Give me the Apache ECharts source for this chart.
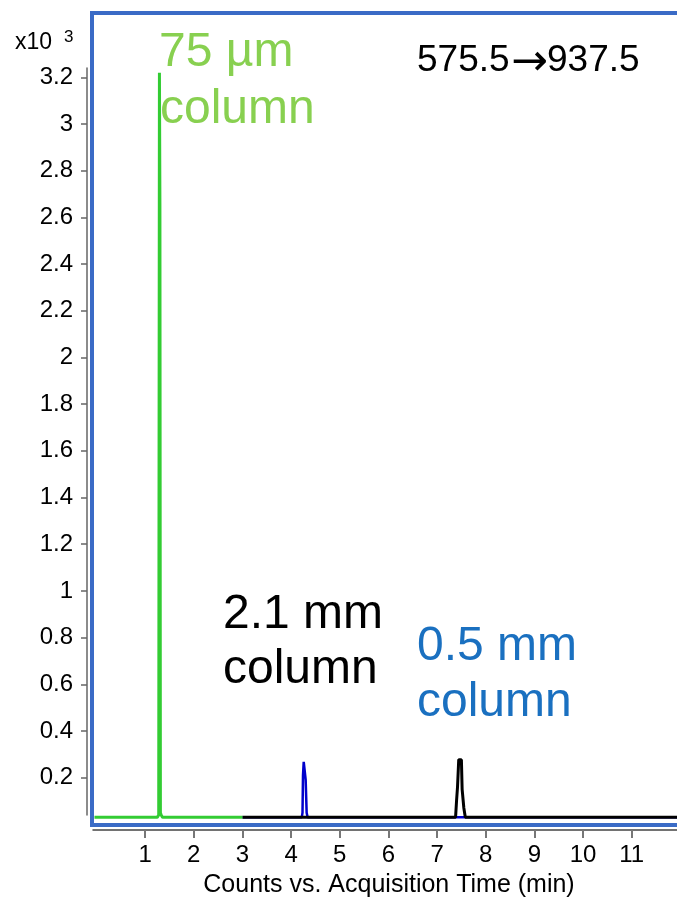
<!DOCTYPE html>
<html>
<head>
<meta charset="utf-8">
<script src="https://cdn.jsdelivr.net/npm/echarts@6/dist/echarts.min.js"></script>
<style>
html,body{margin:0;padding:0;background:#fff;}
#chart{width:677px;height:898px;}
</style>
</head>
<body>
<div id="chart"></div>
<script>
// ---- data (time in min, counts x10^3) ----
var greenTrace = [[-0.04,0.03],[1.25,0.03],[1.28,0.04],[1.295,3.22],[1.305,2.65],[1.315,0.05],[1.33,0.04],[1.36,0.03],[3.0,0.03]];
var blueTrace = [[3.0,0.03],[4.22,0.03],[4.235,0.05],[4.245,0.21],[4.26,0.268],[4.28,0.268],[4.30,0.19],[4.32,0.05],[4.34,0.03],[11.95,0.03]];
var blackTrace = [[3.0,0.03],[7.38,0.03],[7.40,0.10],[7.42,0.16],[7.445,0.277],[7.50,0.277],[7.515,0.15],[7.55,0.07],[7.58,0.03],[11.95,0.03]];
var xTicks = [1,2,3,4,5,6,7,8,9,10,11];
var yTicks = [0.2,0.4,0.6,0.8,1.0,1.2,1.4,1.6,1.8,2.0,2.2,2.4,2.6,2.8,3.0,3.2];

var FONT = '"Liberation Sans", Arial, sans-serif';
var chart = echarts.init(document.getElementById('chart'), null, {renderer:'canvas'});
chart.setOption({
  animation:false,
  grid:{left:93, right:0, top:68, bottom:83},
  xAxis:{
    type:'value', min:-0.07, max:11.93, offset:15,
    axisLine:{show:true, onZero:false, lineStyle:{color:'#444', width:1.5}},
    axisTick:{show:true, length:8, customValues:xTicks, lineStyle:{color:'#777', width:2}},
    axisLabel:{customValues:xTicks, margin:13, color:'#000', fontSize:24, fontFamily:FONT},
    splitLine:{show:false}
  },
  yAxis:{
    type:'value', min:0.04, max:3.24, offset:6,
    axisLine:{show:true, onZero:false, lineStyle:{color:'#666', width:1.5}},
    axisTick:{show:true, length:6, customValues:yTicks, lineStyle:{color:'#666', width:1.5}},
    axisLabel:{customValues:yTicks, margin:14, color:'#000', fontSize:24, fontFamily:FONT,
      formatter:function(v){return String(+(+v).toFixed(1));}},
    splitLine:{show:false}
  },
  series:[
    {type:'line', data:blueTrace, clip:false, symbol:'none', lineStyle:{color:'#0000cc', width:2.5}, z:2},
    {type:'line', data:blackTrace, clip:false, symbol:'none', lineStyle:{color:'#000', width:3}, z:3},
    {type:'line', data:greenTrace, clip:false, symbol:'none', lineStyle:{color:'#33cc33', width:3}, z:4}
  ],
  graphic:[
    {type:'rect', shape:{x:92, y:13, width:620, height:812}, style:{fill:'none', stroke:'#3a6bc6', lineWidth:4}, z:10},
    {type:'text', x:15, y:43, style:{text:'x10', font:'23px ' + FONT, fill:'#000', verticalAlign:'middle'}},
    {type:'text', x:64, y:37, style:{text:'3', font:'17px ' + FONT, fill:'#000', verticalAlign:'middle'}},
    {type:'text', x:159, y:53, style:{text:'75 µm', font:'48px ' + FONT, fill:'#88d050', verticalAlign:'middle'}},
    {type:'text', x:160, y:110, style:{text:'column', font:'48px ' + FONT, fill:'#88d050', verticalAlign:'middle'}},
    {type:'text', x:417, y:61, style:{text:'575.5', font:'37px ' + FONT, fill:'#000', verticalAlign:'middle'}},
    {type:'text', x:511, y:64, style:{text:'→', font:'44px "DejaVu Sans"', fill:'#000', verticalAlign:'middle'}},
    {type:'text', x:547, y:61, style:{text:'937.5', font:'37px ' + FONT, fill:'#000', verticalAlign:'middle'}},
    {type:'text', x:223, y:615, style:{text:'2.1 mm', font:'48px ' + FONT, fill:'#000', verticalAlign:'middle'}},
    {type:'text', x:223, y:670, style:{text:'column', font:'48px ' + FONT, fill:'#000', verticalAlign:'middle'}},
    {type:'text', x:417, y:647, style:{text:'0.5 mm', font:'48px ' + FONT, fill:'#1a70c0', verticalAlign:'middle'}},
    {type:'text', x:417, y:703, style:{text:'column', font:'48px ' + FONT, fill:'#1a70c0', verticalAlign:'middle'}},
    {type:'text', x:389, y:885, style:{text:'Counts vs. Acquisition Time (min)', font:'25px ' + FONT, fill:'#000', align:'center', verticalAlign:'middle'}}
  ]
});
</script>
</body>
</html>
